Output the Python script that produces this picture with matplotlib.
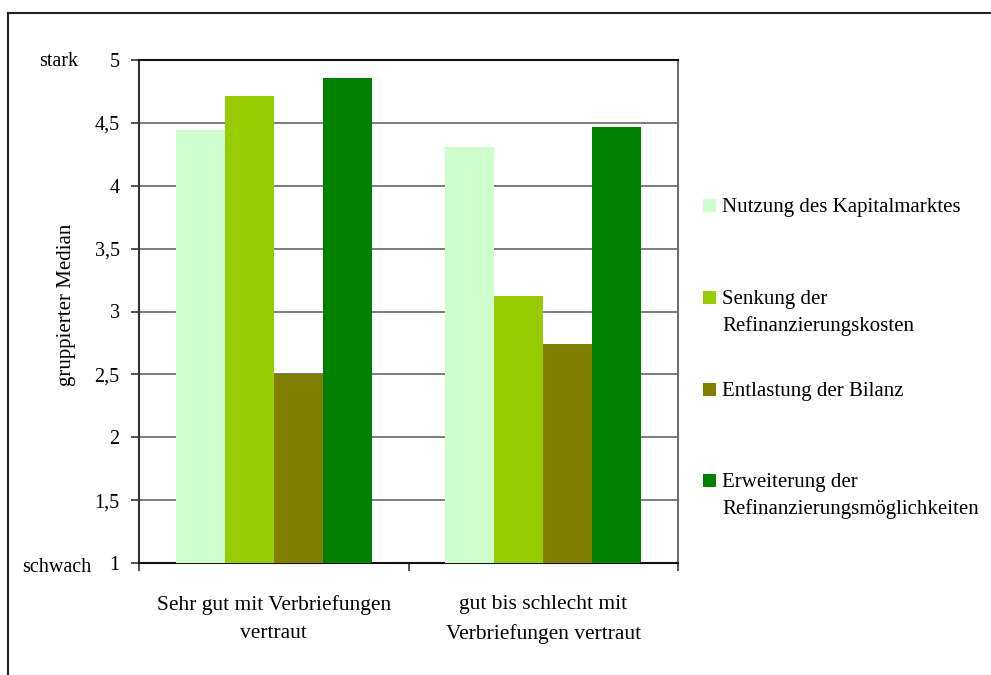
import matplotlib
matplotlib.use("Agg")
import matplotlib.pyplot as plt
from matplotlib.patches import Rectangle
from matplotlib.lines import Line2D
import numpy as np

categories = ["Sehr gut mit Verbriefungen\nvertraut", "gut bis schlecht mit\nVerbriefungen vertraut"]
series_names = [
    "Nutzung des Kapitalmarktes",
    "Senkung der\nRefinanzierungskosten",
    "Entlastung der Bilanz",
    "Erweiterung der\nRefinanzierungsmöglichkeiten",
]
series_colors = ["#CCFFCC", "#99CC00", "#808000", "#008000"]
values = [
    [4.44, 4.31],
    [4.71, 3.12],
    [2.50, 2.74],
    [4.86, 4.47],
]
yticks = [1, 1.5, 2, 2.5, 3, 3.5, 4, 4.5, 5]
ytick_labels = ["1", "1,5", "2", "2,5", "3", "3,5", "4", "4,5", "5"]

W, H = 991, 675
plt.rcParams["font.family"] = ["Liberation Serif", "DejaVu Serif"]
fig = plt.figure(figsize=(W / 100, H / 100), dpi=100)
fig.patch.set_facecolor("white")

# frame around the whole chart (open to the right and bottom)
fig.add_artist(Line2D([8 / W, 8 / W], [0, 1 - 13 / H], transform=fig.transFigure,
                      color="#222222", lw=1.5))
fig.add_artist(Line2D([8 / W, 1], [1 - 13 / H, 1 - 13 / H], transform=fig.transFigure,
                      color="#222222", lw=1.5))

left, right, top, bottom = 139, 678, 60, 563
ax = fig.add_axes([left / W, 1 - bottom / H, (right - left) / W, (bottom - top) / H])

n = len(values)
bw = 0.182
x = np.arange(len(categories)) + 0.5
for i, (vals, col) in enumerate(zip(values, series_colors)):
    offs = (i - (n - 1) / 2) * bw
    ax.bar(x + offs, vals, width=bw, color=col, zorder=3, linewidth=0)

ax.set_xlim(0, len(categories))
ax.set_ylim(1, 5)
ax.set_yticks(yticks)
ax.set_yticklabels(ytick_labels, fontsize=14.5)
ax.yaxis.grid(True, color="#666666", lw=1.2, zorder=0)
ax.set_xticks([0, 1, 2])
ax.set_xticklabels([])
ax.set_xticks(x, minor=True)
ax.set_xticklabels(categories, minor=True, fontsize=15.5, linespacing=1.65)
ax.tick_params(axis="x", which="minor", length=0, pad=23)
ax.tick_params(axis="x", which="major", length=6, width=1.2, color="#333333", direction="out")
ax.tick_params(axis="y", length=6, width=1.2, color="#333333", direction="out", pad=8)

for s, c in [("left", "#333333"), ("bottom", "#111111"), ("top", "#111111"), ("right", "#707070")]:
    ax.spines[s].set_color(c)
    ax.spines[s].set_linewidth(1.5)

ax.set_ylabel("gruppierter Median", fontsize=15)
ax.yaxis.set_label_coords((76 - left) / (right - left), (bottom - 305) / (bottom - top))
fig.text(59 / W, 1 - 61 / H, "stark", fontsize=14.5, ha="center", va="center")
fig.text(57 / W, 1 - 568 / H, "schwach", fontsize=14.5, ha="center", va="center")

# legend
legend_y = [205, 297, 389, 480]
for name, col, ly in zip(series_names, series_colors, legend_y):
    fig.add_artist(Rectangle((703 / W, 1 - (ly + 7) / H), 13 / W, 13 / H,
                             transform=fig.transFigure, facecolor=col, edgecolor="none"))
    fig.text(722 / W, 1 - (ly - 7) / H, name, fontsize=15, ha="left", va="top",
             linespacing=1.45)

fig.savefig("out.png", dpi=100)
